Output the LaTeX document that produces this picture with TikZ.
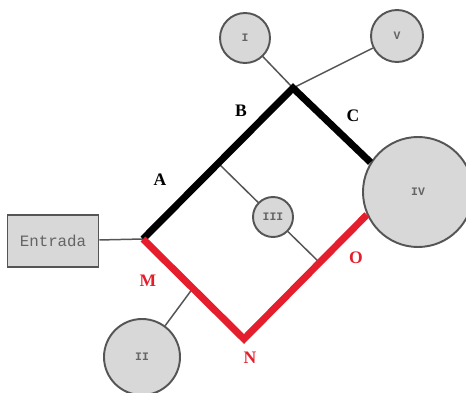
\documentclass[tikz,border=0pt]{standalone}
\usepackage{fontspec}
\setmainfont{Liberation Serif}
\newfontfamily\monofont{Liberation Mono}
\usepackage{xcolor}
\usetikzlibrary{positioning}
\definecolor{pipered}{RGB}{228, 30, 45}
\definecolor{tankgray}{RGB}{216, 216, 216}
\definecolor{edgegray}{RGB}{85, 85, 85}
\definecolor{numgray}{RGB}{100, 100, 100}

\begin{document}
\begin{tikzpicture}[
    x=0.02cm, y=-0.02cm,
    tank/.style={circle, draw=edgegray, line width=1.1pt, fill=tankgray, inner sep=0pt,
                 font=\monofont\bfseries\fontsize{6.5}{6.5}\selectfont, text=numgray},
    inbox/.style={rectangle, draw=edgegray, line width=1.1pt, fill=tankgray,
                 minimum width=91*0.02cm, minimum height=52*0.02cm,
                 font=\monofont\fontsize{9}{9}\selectfont, text=numgray},
    branch/.style={edgegray, line width=0.85pt},
    mainline/.style={line width=4pt, line join=miter},
    tag/.style={font=\bfseries\fontsize{10}{10}\selectfont}
]
\useasboundingbox (0,0) rectangle (466,392);

\node[inbox] (ent) at (53, 241) {Entrada};
\node[tank, minimum size=50*0.02cm] (i) at (245, 38) {I};
\node[tank, minimum size=52*0.02cm] (v) at (397, 36) {V};
\node[tank, minimum size=40*0.02cm] (iii) at (273, 217) {III};
\node[tank, minimum size=76*0.02cm] (ii) at (142, 357) {II};
\node[tank, minimum size=110*0.02cm] (iv) at (418, 192) {IV};

\coordinate (l) at (143, 239);
\coordinate (t) at (293, 88);
\coordinate (n) at (244, 339);
\coordinate (b3) at (218, 163);
\coordinate (o3) at (320, 263);
\coordinate (m2) at (193, 288);

\draw[branch] (ent) -- (l);
\draw[branch] (i) -- (t);
\draw[branch] (v) -- (t);
\draw[branch] (b3) -- (iii) -- (o3);
\draw[branch] (ii) -- (m2);

\draw[mainline, black] (l) -- (t) -- (iv.148);
\draw[mainline, pipered] (l) -- (n) -- (iv.204);

\node[tag] (la) at (160, 180) {A};
\node[tag] (lb) at (241, 111) {B};
\node[tag] (lc) at (353, 116) {C};
\node[tag, pipered] (lm) at (148, 281) {M};
\node[tag, pipered] (ln) at (250, 358) {N};
\node[tag, pipered] (lo) at (356, 258) {O};
\end{tikzpicture}
\end{document}
